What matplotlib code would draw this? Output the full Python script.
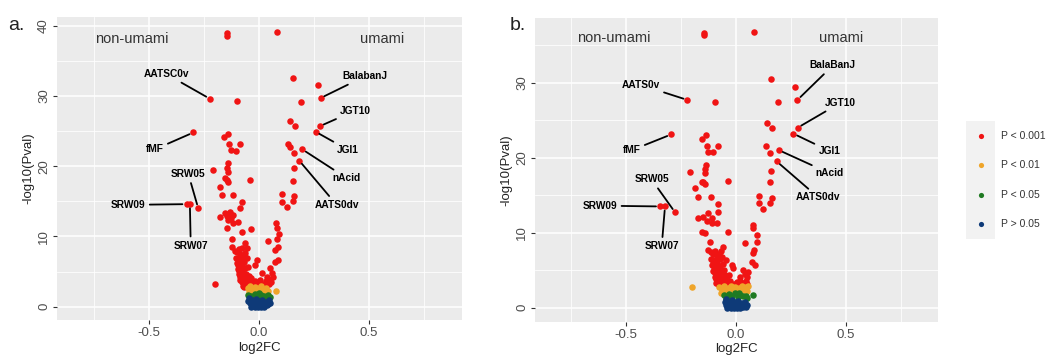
import matplotlib
matplotlib.use("Agg")
import matplotlib.pyplot as plt
from matplotlib.ticker import MultipleLocator

plt.rcParams["font.family"] = ["Liberation Sans", "DejaVu Sans"]

# significance classes, colours and legend text
classes = ["p001", "p01", "p05", "ns"]
class_colors = {"p001": "#F01414", "p01": "#EFA52A", "p05": "#1F7A22", "ns": "#0E3A78"}
legend_labels = ["P < 0.001", "P < 0.01", "P < 0.05", "P > 0.05"]

# ---- panel a: (log2FC, -log10 p) per class ----
a_red = [
    (-0.147, 39.0), (-0.147, 38.6), (0.080, 39.15), (0.156, 32.6), (0.267, 31.5),
    (0.280, 29.7), (-0.223, 29.6), (-0.099, 29.3), (0.191, 29.2), (0.141, 26.4),
    (0.164, 25.7), (0.277, 25.7), (0.258, 24.9), (-0.298, 24.8), (-0.139, 24.6),
    (-0.157, 24.1), (-0.135, 23.1), (-0.085, 23.1), (-0.129, 22.3), (-0.105, 22.2),
    (0.133, 23.1), (0.141, 22.8), (0.159, 21.9), (0.197, 22.4), (0.183, 20.8),
    (-0.139, 20.4), (-0.147, 19.8), (-0.211, 19.5), (-0.139, 19.2), (0.159, 19.7),
    (-0.155, 18.3), (-0.147, 18.0), (-0.139, 17.8), (-0.041, 18.1), (0.156, 17.9),
    (-0.177, 17.1), (-0.117, 15.9), (-0.170, 15.9), (-0.079, 14.9), (0.106, 16.1),
    (0.159, 15.8), (0.103, 14.9), (0.156, 15.1), (0.126, 14.2), (-0.329, 14.6),
    (-0.314, 14.6), (-0.276, 14.0), (-0.085, 14.0),
    (-0.177, 12.8), (-0.155, 13.3), (-0.132, 13.5), (-0.117, 13.1), (-0.139, 12.3),
    (-0.117, 11.9), (-0.094, 12.1), (-0.147, 11.2), (-0.079, 10.7), (-0.038, 11.0),
    (-0.124, 9.7), (-0.124, 8.5), (-0.064, 9.0), (-0.056, 8.3), (0.039, 9.4),
    (-0.145, 12.9), (-0.128, 12.6),
    (0.076, 11.9), (0.083, 11.2), (0.092, 10.4), (0.080, 9.7), (0.088, 8.5),
    (0.073, 8.1), (0.088, 6.6), (0.073, 6.4), (0.050, 5.5), (0.058, 4.8),
    (0.012, 4.8), (0.035, 4.3), (0.005, 3.8), (-0.018, 5.9), (-0.010, 6.6),
    (-0.200, 3.2),
    (-0.108, 8.0), (-0.100, 7.8), (-0.092, 8.2), (-0.085, 7.5), (-0.076, 8.3),
    (-0.105, 7.0), (-0.095, 6.8), (-0.088, 7.1), (-0.080, 6.6), (-0.072, 7.0),
    (-0.101, 6.2), (-0.093, 5.9), (-0.084, 6.1), (-0.076, 5.8), (-0.068, 6.3),
    (-0.097, 5.4), (-0.089, 5.1), (-0.081, 5.3), (-0.073, 5.0), (-0.065, 5.5),
    (-0.092, 4.6), (-0.084, 4.3), (-0.076, 4.5), (-0.068, 4.2), (-0.060, 4.7),
    (-0.086, 3.8), (-0.078, 3.5), (-0.070, 3.7), (-0.062, 3.4), (-0.054, 3.9),
    (-0.074, 3.0), (-0.066, 2.8), (-0.058, 3.1), (-0.050, 2.9), (-0.042, 3.3),
    (-0.055, 6.9), (-0.048, 5.6), (-0.045, 4.4), (-0.040, 3.8), (-0.062, 7.6),
    (-0.034, 4.1), (-0.030, 3.4), (-0.020, 3.6), (-0.010, 3.2), (0.010, 3.0),
    (0.022, 3.3), (0.030, 3.6), (0.045, 3.2), (0.040, 4.0), (0.062, 4.2), (0.055, 3.5),
]
a_orange = [
    (-0.050, 2.6), (-0.040, 3.0), (-0.030, 2.4), (-0.020, 2.8), (-0.010, 2.2),
    (0.000, 2.6), (0.010, 2.9), (0.020, 2.3), (0.030, 2.7), (0.040, 2.2),
    (-0.045, 2.1), (0.015, 2.0), (0.077, 2.3), (-0.025, 2.0),
]
a_green = [
    (-0.050, 1.7), (-0.035, 1.5), (-0.020, 1.8), (-0.005, 1.4), (0.010, 1.7),
    (0.025, 1.5), (0.040, 1.6), (0.050, 1.4), (-0.040, 1.3), (0.000, 1.9), (0.030, 1.3),
]
a_blue = [
    (-0.045, 1.2), (-0.030, 0.9), (-0.015, 1.1), (0.000, 0.8), (0.015, 1.0),
    (0.030, 0.7), (0.045, 0.9), (-0.040, 0.5), (-0.025, 0.3), (-0.010, 0.5),
    (0.005, 0.2), (0.020, 0.4), (0.035, 0.2), (-0.035, 0.0), (-0.020, -0.1),
    (-0.005, 0.0), (0.010, -0.1), (0.025, 0.0), (0.040, 0.4), (-0.050, 0.8),
    (0.050, 0.5), (-0.030, 0.6), (0.000, 0.5), (0.020, 0.7),
]
a_named = {
    "AATSC0v": (-0.223, 29.6), "BalabanJ": (0.280, 29.7), "JGT10": (0.277, 25.7),
    "JGI1": (0.258, 24.9), "nAcid": (0.197, 22.4), "AATS0dv": (0.183, 20.8),
    "fMF": (-0.298, 24.8), "SRW05": (-0.276, 14.0), "SRW09": (-0.329, 14.6),
    "SRW07": (-0.314, 14.6),
}

# ---- panel b ----
b_red = [
    (-0.145, 36.6), (-0.145, 36.3), (0.082, 36.7), (0.158, 30.5), (0.268, 29.4),
    (0.279, 27.7), (-0.221, 27.7), (-0.095, 27.4), (0.192, 27.4),
    (-0.295, 23.1), (-0.136, 23.0), (-0.156, 22.5), (-0.133, 21.6), (-0.083, 21.6),
    (-0.126, 20.8), (-0.103, 20.7), (0.142, 24.6), (0.162, 24.0), (0.280, 24.0),
    (0.261, 23.2), (0.136, 21.5), (0.155, 20.6), (0.195, 21.0), (0.185, 19.5),
    (-0.138, 19.0), (-0.143, 18.5), (-0.209, 18.1), (-0.141, 17.9), (0.158, 18.2),
    (-0.156, 16.8), (-0.149, 16.7), (-0.141, 16.5), (-0.038, 16.9), (0.155, 16.8),
    (-0.186, 15.9), (-0.114, 14.7), (-0.171, 14.8), (-0.080, 13.8), (0.106, 14.9),
    (0.162, 14.6), (0.106, 13.9), (0.155, 14.0), (0.124, 13.1), (-0.345, 13.5),
    (-0.323, 13.5), (-0.277, 12.7), (-0.080, 12.8),
    (-0.171, 11.9), (-0.149, 12.1), (-0.126, 12.6), (-0.110, 11.9), (-0.133, 11.5),
    (-0.110, 11.3), (-0.088, 11.3), (-0.156, 10.1), (-0.141, 9.9), (-0.035, 10.1),
    (-0.118, 8.8), (-0.126, 7.7), (-0.058, 8.1), (0.041, 8.6),
    (0.076, 11.0), (0.079, 10.6), (0.094, 9.7), (0.094, 8.8), (0.082, 7.7),
    (0.076, 7.3), (0.071, 6.1), (0.086, 5.7), (0.056, 4.8), (0.048, 4.1),
    (0.018, 4.1), (0.018, 3.5), (-0.020, 5.7), (-0.012, 5.3),
    (-0.115, 7.4), (-0.106, 7.1), (-0.097, 7.5), (-0.088, 6.9), (-0.079, 7.2),
    (-0.068, 7.6), (-0.112, 6.5), (-0.103, 6.2), (-0.094, 6.4), (-0.085, 6.0),
    (-0.075, 6.5), (-0.066, 6.8), (-0.108, 5.7), (-0.099, 5.4), (-0.090, 5.6),
    (-0.081, 5.2), (-0.071, 5.5), (-0.060, 5.8), (-0.104, 4.9), (-0.095, 4.6),
    (-0.086, 4.8), (-0.077, 4.4), (-0.067, 4.7), (-0.055, 5.0), (-0.098, 4.1),
    (-0.089, 3.8), (-0.080, 4.0), (-0.071, 3.7), (-0.061, 4.0), (-0.050, 4.3),
    (-0.090, 3.3), (-0.081, 3.1), (-0.072, 3.3), (-0.062, 3.0), (-0.052, 3.4),
    (-0.042, 3.7), (-0.035, 3.2), (-0.026, 3.5), (-0.030, 4.4), (-0.045, 6.3),
    (-0.010, 3.1), (0.005, 3.4), (0.020, 3.0), (0.032, 3.3), (0.044, 3.6),
    (0.052, 3.1), (0.040, 4.5), (0.030, 5.0),
]
b_orange = [
    (-0.199, 2.7), (-0.078, 2.8), (-0.065, 2.4), (-0.055, 2.9), (-0.045, 2.2),
    (-0.035, 2.6), (-0.025, 2.9), (-0.015, 2.3), (-0.005, 2.7), (0.005, 2.2),
    (0.015, 2.6), (0.025, 2.9), (0.035, 2.3), (0.045, 2.7), (0.052, 2.2),
    (0.055, 2.9), (-0.070, 2.0), (0.000, 2.0),
]
b_green = [
    (0.076, 1.7), (-0.055, 1.7), (-0.042, 1.4), (-0.030, 1.8), (-0.018, 1.5),
    (-0.005, 1.9), (0.008, 1.4), (0.020, 1.7), (0.032, 1.5), (0.045, 1.6),
    (-0.048, 1.2), (0.015, 1.9), (0.050, 1.3),
]
b_blue = [
    (-0.048, 1.1), (-0.035, 0.8), (-0.020, 1.0), (-0.005, 0.7), (0.010, 0.9),
    (0.025, 0.6), (0.040, 0.8), (0.052, 0.4), (-0.045, 0.4), (-0.030, 0.2),
    (-0.015, 0.4), (0.000, 0.1), (0.015, 0.3), (0.030, 0.1), (-0.040, -0.1),
    (-0.025, -0.1), (-0.010, 0.0), (0.005, -0.1), (0.020, 0.0), (0.038, 0.3),
    (-0.050, 0.7), (0.045, 0.1), (-0.020, 0.6), (0.010, 0.5),
]
b_named = {
    "AATS0v": (-0.221, 27.7), "BalaBanJ": (0.279, 27.7), "JGT10": (0.280, 24.0),
    "JGI1": (0.261, 23.2), "nAcid": (0.195, 21.0), "AATS0dv": (0.185, 19.5),
    "fMF": (-0.295, 23.1), "SRW05": (-0.277, 12.7), "SRW09": (-0.345, 13.5),
    "SRW07": (-0.323, 13.5),
}

# where the repelled labels sit
a_label_pos = {
    "AATSC0v": (-0.42, 33.1), "BalabanJ": (0.482, 32.8), "JGT10": (0.436, 27.9),
    "JGI1": (0.406, 22.3), "nAcid": (0.399, 18.3), "AATS0dv": (0.353, 14.5),
    "fMF": (-0.473, 22.4), "SRW05": (-0.321, 18.9), "SRW09": (-0.594, 14.5),
    "SRW07": (-0.31, 8.7),
}
b_label_pos = {
    "AATS0v": (-0.433, 29.7), "BalaBanJ": (0.44, 32.3), "JGT10": (0.473, 27.3),
    "JGI1": (0.424, 20.9), "nAcid": (0.427, 17.9), "AATS0dv": (0.374, 14.7),
    "fMF": (-0.474, 21.0), "SRW05": (-0.384, 17.1), "SRW09": (-0.618, 13.6),
    "SRW07": (-0.338, 8.2),
}
# side captions: (x of "non-umami", x of "umami", y)
a_side_pos = (-0.579, 0.558, 38.1)
b_side_pos = (-0.555, 0.476, 36.0)


def style_axes(ax, xlim, ylim, yticks):
    ax.set_facecolor("#EBEBEB")
    for s in ax.spines.values():
        s.set_visible(False)
    ax.set_xlim(*xlim)
    ax.set_ylim(*ylim)
    ax.set_xticks([-0.5, 0.0, 0.5])
    ax.set_xticklabels(["-0.5", "0.0", "0.5"])
    ax.set_yticks(yticks)
    ax.xaxis.set_minor_locator(MultipleLocator(0.25))
    ax.yaxis.set_minor_locator(MultipleLocator(5))
    ax.grid(which="major", color="white", lw=1.1)
    ax.grid(which="minor", color="white", lw=0.55)
    ax.set_axisbelow(True)
    ax.tick_params(which="major", length=3, width=0.8, color="#333333",
                   labelcolor="#4D4D4D", labelsize=9.5, pad=2)
    ax.tick_params(which="minor", length=0)
    for t in ax.get_yticklabels():
        t.set_rotation(90)
        t.set_va("center")
    ax.set_xlabel("log2FC", fontsize=9.5, color="#222222", labelpad=2)
    ax.set_ylabel("-log10(Pval)", fontsize=9.5, color="#222222", labelpad=3)


def draw_panel(ax, groups, named, label_pos, side_pos):
    for cls, pts in zip(classes, groups):
        xs = [p[0] for p in pts]
        ys = [p[1] for p in pts]
        ax.scatter(xs, ys, s=22, color=class_colors[cls], linewidths=0, zorder=3)
    for name, (px, py) in named.items():
        tx, ty = label_pos[name]
        ax.annotate(name, xy=(px, py), xytext=(tx, ty), fontsize=7.3, fontweight="bold",
                    ha="center", va="center", color="black", zorder=5,
                    arrowprops=dict(arrowstyle="-", color="black", lw=1.3,
                                    shrinkA=1, shrinkB=3))
    left_x, right_x, y = side_pos
    ax.text(left_x, y, "non-umami", fontsize=10.5, color="#333333",
            ha="center", va="center")
    ax.text(right_x, y, "umami", fontsize=10.5, color="#333333",
            ha="center", va="center")


fig = plt.figure(figsize=(10.49, 3.61), dpi=100)
W, H = 1049, 361

ax_a = fig.add_axes([57 / W, (H - 320) / H, 405 / W, 303 / H])
style_axes(ax_a, (-0.918, 0.923), (-1.89, 41.24), [0, 10, 20, 30, 40])
draw_panel(ax_a, [a_red, a_orange, a_green, a_blue], a_named, a_label_pos, a_side_pos)

ax_b = fig.add_axes([535 / W, (H - 321.7) / H, 403 / W, 303.7 / H])
style_axes(ax_b, (-0.914, 0.918), (-1.87, 38.63), [0, 10, 20, 30])
draw_panel(ax_b, [b_red, b_orange, b_green, b_blue], b_named, b_label_pos, b_side_pos)

fig.text(8 / W, 1 - 25 / H, "a.", fontsize=14, color="#222222", va="center")
fig.text(510 / W, 1 - 25 / H, "b.", fontsize=14, color="#222222", va="center")

# legend drawn as a small keyed panel
leg = fig.add_axes([966 / W, (H - 239) / H, 29 / W, 118 / H])
leg.set_facecolor("#F2F2F2")
for s in leg.spines.values():
    s.set_visible(False)
leg.set_xticks([])
leg.set_yticks([])
leg.set_xlim(0, 1)
leg.set_ylim(0, len(classes))
for i, (cls, lab) in enumerate(zip(classes, legend_labels)):
    yy = len(classes) - 0.5 - i
    leg.scatter([0.5], [yy], s=14, color=class_colors[cls], linewidths=0)
    leg.text(1.22, yy, lab, transform=leg.transData, fontsize=7.5, color="#333333",
             va="center", ha="left", clip_on=False)

fig.savefig("out.png", dpi=100)
